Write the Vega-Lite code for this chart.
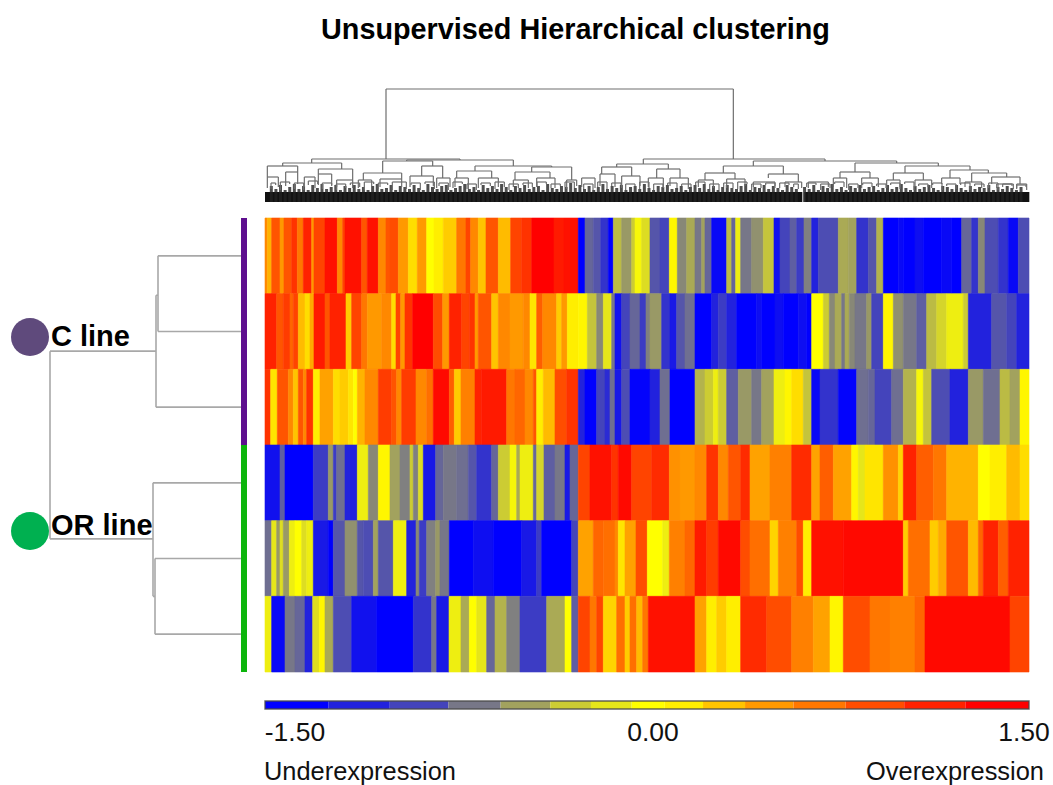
{
"$schema":"https://vega.github.io/schema/vega-lite/v6.json",
"width":1053,"height":785,"padding":0,"autosize":{"type":"none"},
"background":"white",
"title":{"text":"Unsupervised Hierarchical clustering","font":"Liberation Sans","fontSize":28.8,"fontWeight":"bold","color":"#000000","anchor":"start","frame":"group","dx":321,"dy":68,"offset":0,"baseline":"alphabetic"},
"config":{"view":{"stroke":null}},
"datasets":{
"heat":[
{"r":"C1","a":0,"b":7,"v":0.7},{"r":"C1","a":7,"b":20,"v":0.45},{"r":"C1","a":20,"b":45,"v":1.0},{"r":"C1","a":45,"b":57,"v":0.6},{"r":"C1","a":57,"b":80,"v":1.0},{"r":"C1","a":80,"b":97,"v":1.2},{"r":"C1","a":97,"b":115,"v":0.8},{"r":"C1","a":115,"b":140,"v":1.3},{"r":"C1","a":140,"b":147,"v":0.6},{"r":"C1","a":147,"b":180,"v":1.1},{"r":"C1","a":180,"b":217,"v":1.4},{"r":"C1","a":217,"b":233,"v":0.7},{"r":"C1","a":233,"b":240,"v":1.1},{"r":"C1","a":240,"b":290,"v":1.4},{"r":"C1","a":290,"b":307,"v":1.0},{"r":"C1","a":307,"b":340,"v":1.4},{"r":"C1","a":340,"b":363,"v":0.7},{"r":"C1","a":363,"b":375,"v":1.0},{"r":"C1","a":375,"b":400,"v":1.05},{"r":"C1","a":400,"b":430,"v":0.6},{"r":"C1","a":430,"b":457,"v":0.2},{"r":"C1","a":457,"b":485,"v":0.6},{"r":"C1","a":485,"b":507,"v":0},{"r":"C1","a":507,"b":535,"v":0.1},{"r":"C1","a":535,"b":575,"v":0.3},{"r":"C1","a":575,"b":603,"v":0.8},{"r":"C1","a":603,"b":617,"v":1.1},{"r":"C1","a":617,"b":640,"v":0.7},{"r":"C1","a":640,"b":663,"v":0.35},{"r":"C1","a":663,"b":700,"v":1.0},{"r":"C1","a":700,"b":737,"v":0.4},{"r":"C1","a":737,"b":770,"v":1.1},{"r":"C1","a":770,"b":800,"v":1.2},{"r":"C1","a":800,"b":867,"v":1.5},{"r":"C1","a":867,"b":897,"v":1.35},{"r":"C1","a":897,"b":940,"v":1.4},
{"r":"C1","a":940,"b":960,"v":-1.5},{"r":"C1","a":960,"b":985,"v":-0.9},{"r":"C1","a":985,"b":1007,"v":-1.0},{"r":"C1","a":1007,"b":1030,"v":-1.2},{"r":"C1","a":1030,"b":1045,"v":-1.5},{"r":"C1","a":1045,"b":1070,"v":-0.4},{"r":"C1","a":1070,"b":1100,"v":-0.6},{"r":"C1","a":1100,"b":1110,"v":-0.3},{"r":"C1","a":1110,"b":1130,"v":-0.05},{"r":"C1","a":1130,"b":1155,"v":-0.2},{"r":"C1","a":1155,"b":1185,"v":-1.0},{"r":"C1","a":1185,"b":1213,"v":-1.1},{"r":"C1","a":1213,"b":1237,"v":0.05},{"r":"C1","a":1237,"b":1265,"v":-0.7},{"r":"C1","a":1265,"b":1290,"v":-0.5},{"r":"C1","a":1290,"b":1310,"v":-0.8},{"r":"C1","a":1310,"b":1320,"v":-0.55},{"r":"C1","a":1320,"b":1340,"v":-0.9},{"r":"C1","a":1340,"b":1385,"v":-1.45},{"r":"C1","a":1385,"b":1400,"v":-0.4},{"r":"C1","a":1400,"b":1412,"v":-0.9},{"r":"C1","a":1412,"b":1427,"v":-0.1},{"r":"C1","a":1427,"b":1460,"v":-0.8},{"r":"C1","a":1460,"b":1495,"v":-0.65},{"r":"C1","a":1495,"b":1527,"v":-0.35},{"r":"C1","a":1527,"b":1545,"v":-1.4},{"r":"C1","a":1545,"b":1575,"v":-1.1},{"r":"C1","a":1575,"b":1595,"v":-0.95},{"r":"C1","a":1595,"b":1617,"v":-1.15},{"r":"C1","a":1617,"b":1640,"v":-0.75},{"r":"C1","a":1640,"b":1660,"v":-1.3},{"r":"C1","a":1660,"b":1720,"v":-1.05},{"r":"C1","a":1720,"b":1750,"v":-0.5},{"r":"C1","a":1750,"b":1775,"v":-0.55},{"r":"C1","a":1775,"b":1810,"v":-1.2},{"r":"C1","a":1810,"b":1835,"v":-1.0},{"r":"C1","a":1835,"b":1855,"v":-0.45},{"r":"C1","a":1855,"b":1900,"v":-1.5},{"r":"C1","a":1900,"b":1915,"v":-1.45},{"r":"C1","a":1915,"b":1950,"v":-1.5},{"r":"C1","a":1950,"b":1975,"v":-1.42},{"r":"C1","a":1975,"b":2030,"v":-1.5},{"r":"C1","a":2030,"b":2060,"v":-1.45},{"r":"C1","a":2060,"b":2090,"v":-1.5},{"r":"C1","a":2090,"b":2120,"v":-0.9},{"r":"C1","a":2120,"b":2140,"v":-1.2},{"r":"C1","a":2140,"b":2160,"v":-0.7},{"r":"C1","a":2160,"b":2200,"v":-1.05},{"r":"C1","a":2200,"b":2230,"v":-1.2},{"r":"C1","a":2230,"b":2260,"v":-1.45},{"r":"C1","a":2260,"b":2292,"v":-1.05},
{"r":"C2","a":0,"b":35,"v":1.3},{"r":"C2","a":35,"b":55,"v":1.0},{"r":"C2","a":55,"b":75,"v":1.15},{"r":"C2","a":75,"b":85,"v":0.9},{"r":"C2","a":85,"b":100,"v":1.1},{"r":"C2","a":100,"b":120,"v":0.4},{"r":"C2","a":120,"b":135,"v":0.2},{"r":"C2","a":135,"b":147,"v":0.5},{"r":"C2","a":147,"b":180,"v":1.35},{"r":"C2","a":180,"b":195,"v":1.0},{"r":"C2","a":195,"b":243,"v":1.3},{"r":"C2","a":243,"b":260,"v":0.3},{"r":"C2","a":260,"b":290,"v":1.1},{"r":"C2","a":290,"b":307,"v":0.8},{"r":"C2","a":307,"b":350,"v":0.6},{"r":"C2","a":350,"b":380,"v":0.7},{"r":"C2","a":380,"b":393,"v":0.2},{"r":"C2","a":393,"b":407,"v":1.1},{"r":"C2","a":407,"b":420,"v":0.6},{"r":"C2","a":420,"b":443,"v":1.2},{"r":"C2","a":443,"b":505,"v":1.5},{"r":"C2","a":505,"b":533,"v":1.05},{"r":"C2","a":533,"b":553,"v":0.6},{"r":"C2","a":553,"b":590,"v":1.3},{"r":"C2","a":590,"b":613,"v":1.1},{"r":"C2","a":613,"b":630,"v":1.2},{"r":"C2","a":630,"b":640,"v":0.6},{"r":"C2","a":640,"b":680,"v":1.0},{"r":"C2","a":680,"b":700,"v":0.35},{"r":"C2","a":700,"b":735,"v":0.7},{"r":"C2","a":735,"b":775,"v":0.6},{"r":"C2","a":775,"b":795,"v":0.7},{"r":"C2","a":795,"b":815,"v":0.15},{"r":"C2","a":815,"b":833,"v":0.95},{"r":"C2","a":833,"b":875,"v":0.7},{"r":"C2","a":875,"b":890,"v":0.3},{"r":"C2","a":890,"b":907,"v":0.6},{"r":"C2","a":907,"b":940,"v":0.1},
{"r":"C2","a":940,"b":967,"v":0.05},{"r":"C2","a":967,"b":995,"v":-0.35},{"r":"C2","a":995,"b":1015,"v":-0.7},{"r":"C2","a":1015,"b":1040,"v":-0.15},{"r":"C2","a":1040,"b":1050,"v":-0.8},{"r":"C2","a":1050,"b":1070,"v":-1.4},{"r":"C2","a":1070,"b":1095,"v":-1.1},{"r":"C2","a":1095,"b":1125,"v":-0.9},{"r":"C2","a":1125,"b":1143,"v":-1.15},{"r":"C2","a":1143,"b":1155,"v":-0.75},{"r":"C2","a":1155,"b":1190,"v":-0.6},{"r":"C2","a":1190,"b":1215,"v":-1.2},{"r":"C2","a":1215,"b":1235,"v":-1.35},{"r":"C2","a":1235,"b":1260,"v":-1.0},{"r":"C2","a":1260,"b":1290,"v":-0.85},{"r":"C2","a":1290,"b":1340,"v":-1.5},{"r":"C2","a":1340,"b":1360,"v":-1.3},{"r":"C2","a":1360,"b":1385,"v":-1.15},{"r":"C2","a":1385,"b":1415,"v":-1.3},{"r":"C2","a":1415,"b":1475,"v":-1.5},{"r":"C2","a":1475,"b":1490,"v":-1.42},{"r":"C2","a":1490,"b":1530,"v":-1.5},{"r":"C2","a":1530,"b":1555,"v":-1.42},{"r":"C2","a":1555,"b":1600,"v":-1.5},{"r":"C2","a":1600,"b":1625,"v":-1.42},{"r":"C2","a":1625,"b":1640,"v":-1.5},{"r":"C2","a":1640,"b":1675,"v":0},{"r":"C2","a":1675,"b":1693,"v":-0.3},{"r":"C2","a":1693,"b":1710,"v":-0.7},{"r":"C2","a":1710,"b":1730,"v":-0.5},{"r":"C2","a":1730,"b":1740,"v":-0.8},{"r":"C2","a":1740,"b":1753,"v":-0.5},{"r":"C2","a":1753,"b":1770,"v":-0.7},{"r":"C2","a":1770,"b":1805,"v":-0.8},{"r":"C2","a":1805,"b":1820,"v":-0.6},{"r":"C2","a":1820,"b":1855,"v":-1.1},{"r":"C2","a":1855,"b":1885,"v":0.05},{"r":"C2","a":1885,"b":1915,"v":-0.65},{"r":"C2","a":1915,"b":1955,"v":-0.8},{"r":"C2","a":1955,"b":1985,"v":-0.95},{"r":"C2","a":1985,"b":2015,"v":-0.4},{"r":"C2","a":2015,"b":2045,"v":-0.25},{"r":"C2","a":2045,"b":2095,"v":-0.1},{"r":"C2","a":2095,"b":2110,"v":-0.3},{"r":"C2","a":2110,"b":2180,"v":-1.3},{"r":"C2","a":2180,"b":2225,"v":-1.0},{"r":"C2","a":2225,"b":2255,"v":-1.1},{"r":"C2","a":2255,"b":2292,"v":-1.3},
{"r":"C3","a":0,"b":17,"v":1.2},{"r":"C3","a":17,"b":37,"v":0.15},{"r":"C3","a":37,"b":70,"v":1.0},{"r":"C3","a":70,"b":85,"v":0.7},{"r":"C3","a":85,"b":100,"v":0.35},{"r":"C3","a":100,"b":115,"v":1.0},{"r":"C3","a":115,"b":125,"v":0.7},{"r":"C3","a":125,"b":145,"v":1.2},{"r":"C3","a":145,"b":165,"v":0.1},{"r":"C3","a":165,"b":205,"v":0.55},{"r":"C3","a":205,"b":225,"v":0.2},{"r":"C3","a":225,"b":250,"v":0.3},{"r":"C3","a":250,"b":265,"v":0.15},{"r":"C3","a":265,"b":277,"v":0},{"r":"C3","a":277,"b":300,"v":0.45},{"r":"C3","a":300,"b":340,"v":0.7},{"r":"C3","a":340,"b":380,"v":1.15},{"r":"C3","a":380,"b":395,"v":1.0},{"r":"C3","a":395,"b":410,"v":0.7},{"r":"C3","a":410,"b":453,"v":1.15},{"r":"C3","a":453,"b":485,"v":0.7},{"r":"C3","a":485,"b":505,"v":0.85},{"r":"C3","a":505,"b":553,"v":1.45},{"r":"C3","a":553,"b":568,"v":0.95},{"r":"C3","a":568,"b":588,"v":0.3},{"r":"C3","a":588,"b":630,"v":0.75},{"r":"C3","a":630,"b":650,"v":1.3},{"r":"C3","a":650,"b":725,"v":1.35},{"r":"C3","a":725,"b":750,"v":0.8},{"r":"C3","a":750,"b":780,"v":0.9},{"r":"C3","a":780,"b":805,"v":0.7},{"r":"C3","a":805,"b":815,"v":1.0},{"r":"C3","a":815,"b":835,"v":0.1},{"r":"C3","a":835,"b":870,"v":0.4},{"r":"C3","a":870,"b":905,"v":1.05},{"r":"C3","a":905,"b":940,"v":1.2},
{"r":"C3","a":940,"b":960,"v":-1.3},{"r":"C3","a":960,"b":995,"v":-1.5},{"r":"C3","a":995,"b":1020,"v":-1.1},{"r":"C3","a":1020,"b":1035,"v":-1.25},{"r":"C3","a":1035,"b":1050,"v":-0.85},{"r":"C3","a":1050,"b":1070,"v":-1.35},{"r":"C3","a":1070,"b":1095,"v":-1.05},{"r":"C3","a":1095,"b":1155,"v":-1.48},{"r":"C3","a":1155,"b":1185,"v":-1.3},{"r":"C3","a":1185,"b":1215,"v":-0.85},{"r":"C3","a":1215,"b":1290,"v":-1.5},{"r":"C3","a":1290,"b":1320,"v":-0.45},{"r":"C3","a":1320,"b":1345,"v":-0.3},{"r":"C3","a":1345,"b":1360,"v":-0.1},{"r":"C3","a":1360,"b":1385,"v":-0.3},{"r":"C3","a":1385,"b":1420,"v":-0.95},{"r":"C3","a":1420,"b":1460,"v":-0.6},{"r":"C3","a":1460,"b":1490,"v":-0.8},{"r":"C3","a":1490,"b":1527,"v":-0.55},{"r":"C3","a":1527,"b":1560,"v":-0.1},{"r":"C3","a":1560,"b":1580,"v":0.05},{"r":"C3","a":1580,"b":1615,"v":0.2},{"r":"C3","a":1615,"b":1640,"v":-0.35},{"r":"C3","a":1640,"b":1665,"v":-1.45},{"r":"C3","a":1665,"b":1720,"v":-1.2},{"r":"C3","a":1720,"b":1775,"v":-1.48},{"r":"C3","a":1775,"b":1810,"v":-0.85},{"r":"C3","a":1810,"b":1830,"v":-0.9},{"r":"C3","a":1830,"b":1880,"v":-1.1},{"r":"C3","a":1880,"b":1915,"v":-0.85},{"r":"C3","a":1915,"b":1955,"v":-0.45},{"r":"C3","a":1955,"b":1975,"v":-0.05},{"r":"C3","a":1975,"b":2000,"v":-0.35},{"r":"C3","a":2000,"b":2055,"v":-1.05},{"r":"C3","a":2055,"b":2110,"v":-1.3},{"r":"C3","a":2110,"b":2155,"v":-0.6},{"r":"C3","a":2155,"b":2205,"v":-0.85},{"r":"C3","a":2205,"b":2235,"v":-0.4},{"r":"C3","a":2235,"b":2265,"v":-0.55},{"r":"C3","a":2265,"b":2292,"v":0.05},
{"r":"OR1","a":0,"b":45,"v":-1.4},{"r":"OR1","a":45,"b":60,"v":-0.95},{"r":"OR1","a":60,"b":145,"v":-1.5},{"r":"OR1","a":145,"b":190,"v":-1.15},{"r":"OR1","a":190,"b":205,"v":-0.6},{"r":"OR1","a":205,"b":215,"v":-1.15},{"r":"OR1","a":215,"b":240,"v":-0.85},{"r":"OR1","a":240,"b":277,"v":-1.3},{"r":"OR1","a":277,"b":310,"v":-0.1},{"r":"OR1","a":310,"b":340,"v":-0.7},{"r":"OR1","a":340,"b":375,"v":0.05},{"r":"OR1","a":375,"b":405,"v":-0.55},{"r":"OR1","a":405,"b":435,"v":-0.75},{"r":"OR1","a":435,"b":445,"v":-0.3},{"r":"OR1","a":445,"b":460,"v":-0.75},{"r":"OR1","a":460,"b":475,"v":-0.2},{"r":"OR1","a":475,"b":512,"v":-1.35},{"r":"OR1","a":512,"b":535,"v":-0.9},{"r":"OR1","a":535,"b":575,"v":-0.8},{"r":"OR1","a":575,"b":610,"v":-0.85},{"r":"OR1","a":610,"b":635,"v":-1.0},{"r":"OR1","a":635,"b":680,"v":-1.2},{"r":"OR1","a":680,"b":700,"v":-0.9},{"r":"OR1","a":700,"b":735,"v":-0.3},{"r":"OR1","a":735,"b":755,"v":-0.05},{"r":"OR1","a":755,"b":765,"v":-0.5},{"r":"OR1","a":765,"b":805,"v":-0.1},{"r":"OR1","a":805,"b":815,"v":-0.9},{"r":"OR1","a":815,"b":837,"v":-0.25},{"r":"OR1","a":837,"b":870,"v":-0.95},{"r":"OR1","a":870,"b":900,"v":-0.8},{"r":"OR1","a":900,"b":915,"v":-1.35},{"r":"OR1","a":915,"b":940,"v":-0.9},
{"r":"OR1","a":940,"b":975,"v":1.1},{"r":"OR1","a":975,"b":1040,"v":1.4},{"r":"OR1","a":1040,"b":1060,"v":1.2},{"r":"OR1","a":1060,"b":1100,"v":1.45},{"r":"OR1","a":1100,"b":1160,"v":1.1},{"r":"OR1","a":1160,"b":1213,"v":1.25},{"r":"OR1","a":1213,"b":1245,"v":0.65},{"r":"OR1","a":1245,"b":1290,"v":0.6},{"r":"OR1","a":1290,"b":1325,"v":0.7},{"r":"OR1","a":1325,"b":1360,"v":1.2},{"r":"OR1","a":1360,"b":1390,"v":0.7},{"r":"OR1","a":1390,"b":1427,"v":1.0},{"r":"OR1","a":1427,"b":1455,"v":1.25},{"r":"OR1","a":1455,"b":1515,"v":0.55},{"r":"OR1","a":1515,"b":1580,"v":0.75},{"r":"OR1","a":1580,"b":1640,"v":1.25},{"r":"OR1","a":1640,"b":1665,"v":0.55},{"r":"OR1","a":1665,"b":1705,"v":0.95},{"r":"OR1","a":1705,"b":1760,"v":0.55},{"r":"OR1","a":1760,"b":1780,"v":0.05},{"r":"OR1","a":1780,"b":1800,"v":-0.15},{"r":"OR1","a":1800,"b":1855,"v":0.15},{"r":"OR1","a":1855,"b":1900,"v":0.65},{"r":"OR1","a":1900,"b":1915,"v":0.25},{"r":"OR1","a":1915,"b":1955,"v":1.3},{"r":"OR1","a":1955,"b":2005,"v":0.95},{"r":"OR1","a":2005,"b":2045,"v":0.8},{"r":"OR1","a":2045,"b":2140,"v":0.45},{"r":"OR1","a":2140,"b":2175,"v":0},{"r":"OR1","a":2175,"b":2225,"v":0.1},{"r":"OR1","a":2225,"b":2265,"v":0.4},{"r":"OR1","a":2265,"b":2292,"v":0.2},
{"r":"OR2","a":0,"b":20,"v":-0.85},{"r":"OR2","a":20,"b":35,"v":-0.15},{"r":"OR2","a":35,"b":45,"v":-0.6},{"r":"OR2","a":45,"b":55,"v":-0.2},{"r":"OR2","a":55,"b":73,"v":-0.6},{"r":"OR2","a":73,"b":90,"v":-0.1},{"r":"OR2","a":90,"b":110,"v":0},{"r":"OR2","a":110,"b":125,"v":-0.2},{"r":"OR2","a":125,"b":145,"v":-0.1},{"r":"OR2","a":145,"b":190,"v":-1.35},{"r":"OR2","a":190,"b":205,"v":-1.5},{"r":"OR2","a":205,"b":240,"v":-1.0},{"r":"OR2","a":240,"b":277,"v":-0.65},{"r":"OR2","a":277,"b":295,"v":-1.0},{"r":"OR2","a":295,"b":325,"v":-1.05},{"r":"OR2","a":325,"b":340,"v":-0.55},{"r":"OR2","a":340,"b":385,"v":-1.0},{"r":"OR2","a":385,"b":425,"v":-0.1},{"r":"OR2","a":425,"b":453,"v":-1.3},{"r":"OR2","a":453,"b":463,"v":-0.7},{"r":"OR2","a":463,"b":485,"v":-1.15},{"r":"OR2","a":485,"b":512,"v":-0.75},{"r":"OR2","a":512,"b":525,"v":-0.6},{"r":"OR2","a":525,"b":553,"v":-0.8},{"r":"OR2","a":553,"b":625,"v":-1.5},{"r":"OR2","a":625,"b":685,"v":-1.42},{"r":"OR2","a":685,"b":770,"v":-1.5},{"r":"OR2","a":770,"b":815,"v":-1.35},{"r":"OR2","a":815,"b":830,"v":-1.15},{"r":"OR2","a":830,"b":920,"v":-1.5},{"r":"OR2","a":920,"b":940,"v":-1.1},
{"r":"OR2","a":940,"b":985,"v":0.55},{"r":"OR2","a":985,"b":1015,"v":0.9},{"r":"OR2","a":1015,"b":1050,"v":0.85},{"r":"OR2","a":1050,"b":1060,"v":0.7},{"r":"OR2","a":1060,"b":1080,"v":0.15},{"r":"OR2","a":1080,"b":1113,"v":0.55},{"r":"OR2","a":1113,"b":1147,"v":1.05},{"r":"OR2","a":1147,"b":1193,"v":0},{"r":"OR2","a":1193,"b":1213,"v":-0.1},{"r":"OR2","a":1213,"b":1260,"v":0.75},{"r":"OR2","a":1260,"b":1290,"v":0.9},{"r":"OR2","a":1290,"b":1325,"v":1.35},{"r":"OR2","a":1325,"b":1360,"v":1.15},{"r":"OR2","a":1360,"b":1427,"v":1.45},{"r":"OR2","a":1427,"b":1455,"v":1.05},{"r":"OR2","a":1455,"b":1515,"v":0.85},{"r":"OR2","a":1515,"b":1540,"v":0.25},{"r":"OR2","a":1540,"b":1595,"v":0.75},{"r":"OR2","a":1595,"b":1615,"v":1.05},{"r":"OR2","a":1615,"b":1640,"v":0.1},{"r":"OR2","a":1640,"b":1735,"v":1.4},{"r":"OR2","a":1735,"b":1915,"v":1.45},{"r":"OR2","a":1915,"b":1930,"v":0.3},{"r":"OR2","a":1930,"b":1995,"v":0.85},{"r":"OR2","a":1995,"b":2020,"v":0.3},{"r":"OR2","a":2020,"b":2045,"v":0.5},{"r":"OR2","a":2045,"b":2110,"v":1.0},{"r":"OR2","a":2110,"b":2140,"v":0.4},{"r":"OR2","a":2140,"b":2155,"v":0.9},{"r":"OR2","a":2155,"b":2200,"v":1.3},{"r":"OR2","a":2200,"b":2230,"v":0.95},{"r":"OR2","a":2230,"b":2292,"v":1.3},
{"r":"OR3","a":0,"b":20,"v":-0.1},{"r":"OR3","a":20,"b":60,"v":-1.45},{"r":"OR3","a":60,"b":90,"v":-0.8},{"r":"OR3","a":90,"b":120,"v":-0.9},{"r":"OR3","a":120,"b":143,"v":-1.3},{"r":"OR3","a":143,"b":163,"v":-0.2},{"r":"OR3","a":163,"b":180,"v":0.05},{"r":"OR3","a":180,"b":205,"v":-0.5},{"r":"OR3","a":205,"b":260,"v":-1.05},{"r":"OR3","a":260,"b":335,"v":-1.4},{"r":"OR3","a":335,"b":445,"v":-1.5},{"r":"OR3","a":445,"b":500,"v":-1.2},{"r":"OR3","a":500,"b":515,"v":-0.8},{"r":"OR3","a":515,"b":552,"v":-1.35},{"r":"OR3","a":552,"b":588,"v":-0.1},{"r":"OR3","a":588,"b":613,"v":-0.5},{"r":"OR3","a":613,"b":635,"v":0},{"r":"OR3","a":635,"b":665,"v":-0.15},{"r":"OR3","a":665,"b":690,"v":-0.9},{"r":"OR3","a":690,"b":725,"v":-0.45},{"r":"OR3","a":725,"b":765,"v":-0.75},{"r":"OR3","a":765,"b":845,"v":-1.15},{"r":"OR3","a":845,"b":900,"v":-0.5},{"r":"OR3","a":900,"b":920,"v":0},{"r":"OR3","a":920,"b":940,"v":-0.95},
{"r":"OR3","a":940,"b":975,"v":1.1},{"r":"OR3","a":975,"b":995,"v":0.8},{"r":"OR3","a":995,"b":1015,"v":1.1},{"r":"OR3","a":1015,"b":1055,"v":0.25},{"r":"OR3","a":1055,"b":1080,"v":0.85},{"r":"OR3","a":1080,"b":1095,"v":0.3},{"r":"OR3","a":1095,"b":1115,"v":0.85},{"r":"OR3","a":1115,"b":1133,"v":0.4},{"r":"OR3","a":1133,"b":1150,"v":0.8},{"r":"OR3","a":1150,"b":1290,"v":1.4},{"r":"OR3","a":1290,"b":1325,"v":0.55},{"r":"OR3","a":1325,"b":1355,"v":0.1},{"r":"OR3","a":1355,"b":1385,"v":0.3},{"r":"OR3","a":1385,"b":1427,"v":0.1},{"r":"OR3","a":1427,"b":1505,"v":1.25},{"r":"OR3","a":1505,"b":1580,"v":1.05},{"r":"OR3","a":1580,"b":1645,"v":0.75},{"r":"OR3","a":1645,"b":1695,"v":0.55},{"r":"OR3","a":1695,"b":1735,"v":0.05},{"r":"OR3","a":1735,"b":1815,"v":1.05},{"r":"OR3","a":1815,"b":1875,"v":0.8},{"r":"OR3","a":1875,"b":1950,"v":0.75},{"r":"OR3","a":1950,"b":1980,"v":0.9},{"r":"OR3","a":1980,"b":2235,"v":1.45},{"r":"OR3","a":2235,"b":2292,"v":1.1}
],
"bands":[{"a":-1.5,"b":-1.25,"v":-1.5,"lo":0,"hi":1},{"a":-1.25,"b":-1.01,"v":-1.3,"lo":0,"hi":1},{"a":-1.01,"b":-0.78,"v":-1.1,"lo":0,"hi":1},{"a":-0.78,"b":-0.575,"v":-0.8,"lo":0,"hi":1},{"a":-0.575,"b":-0.38,"v":-0.55,"lo":0,"hi":1},{"a":-0.38,"b":-0.22,"v":-0.3,"lo":0,"hi":1},{"a":-0.22,"b":-0.06,"v":-0.15,"lo":0,"hi":1},{"a":-0.06,"b":0.07,"v":0,"lo":0,"hi":1},{"a":0.07,"b":0.22,"v":0.1,"lo":0,"hi":1},{"a":0.22,"b":0.385,"v":0.35,"lo":0,"hi":1},{"a":0.385,"b":0.575,"v":0.6,"lo":0,"hi":1},{"a":0.575,"b":0.78,"v":0.8,"lo":0,"hi":1},{"a":0.78,"b":1.01,"v":1.05,"lo":0,"hi":1},{"a":1.01,"b":1.25,"v":1.3,"lo":0,"hi":1},{"a":1.25,"b":1.5,"v":1.5,"lo":0,"hi":1}],
"arches":[
{"a":363,"b":1405,"h":113,"ha":43,"hb":43},{"a":140,"b":585,"h":43,"ha":39,"hb":42},{"a":53,"b":230,"h":39,"ha":36,"hb":33},{"a":7,"b":98,"h":36,"ha":25,"hb":30},{"a":160,"b":263,"h":33,"ha":28,"hb":22},{"a":425,"b":745,"h":42,"ha":41,"hb":36},{"a":353,"b":503,"h":41,"ha":29,"hb":36},{"a":295,"b":410,"h":29,"ha":22,"hb":23},{"a":470,"b":533,"h":36,"ha":26,"hb":24},{"a":630,"b":860,"h":36,"ha":31,"hb":35},{"a":575,"b":680,"h":31,"ha":24,"hb":24},{"a":800,"b":920,"h":35,"ha":30,"hb":22},{"a":750,"b":855,"h":30,"ha":22,"hb":24},
{"a":1135,"b":1680,"h":43,"ha":38,"hb":41},{"a":1055,"b":1210,"h":38,"ha":35,"hb":33},{"a":1010,"b":1100,"h":35,"ha":28,"hb":26},{"a":1175,"b":1245,"h":33,"ha":24,"hb":24},{"a":1465,"b":1895,"h":41,"ha":36,"hb":39},{"a":1375,"b":1555,"h":36,"ha":29,"hb":28},{"a":1320,"b":1410,"h":29,"ha":22,"hb":23},{"a":1510,"b":1600,"h":28,"ha":24,"hb":20},{"a":1770,"b":2020,"h":39,"ha":30,"hb":36},{"a":1725,"b":1815,"h":30,"ha":24,"hb":24},{"a":1920,"b":2115,"h":36,"ha":29,"hb":32},{"a":1885,"b":1975,"h":29,"ha":22,"hb":22},{"a":2055,"b":2170,"h":32,"ha":24,"hb":29},{"a":2030,"b":2085,"h":24,"ha":18,"hb":18},{"a":2120,"b":2225,"h":29,"ha":20,"hb":25},{"a":2180,"b":2265,"h":25,"ha":18,"hb":18},
{"a":7,"b":40,"h":25,"ha":14,"hb":15},{"a":62,"b":98,"h":30,"ha":16,"hb":18},{"a":118,"b":150,"h":25,"ha":15,"hb":14},{"a":160,"b":200,"h":28,"ha":17,"hb":16},{"a":215,"b":263,"h":22,"ha":15,"hb":14},{"a":280,"b":320,"h":22,"ha":14,"hb":16},{"a":345,"b":410,"h":23,"ha":15,"hb":15},{"a":435,"b":505,"h":26,"ha":15,"hb":16},{"a":515,"b":555,"h":24,"ha":14,"hb":15},{"a":570,"b":610,"h":24,"ha":15,"hb":13},{"a":640,"b":700,"h":24,"ha":14,"hb":15},{"a":745,"b":790,"h":22,"ha":15,"hb":14},{"a":815,"b":870,"h":24,"ha":15,"hb":14},{"a":905,"b":935,"h":22,"ha":13,"hb":16},
{"a":950,"b":990,"h":24,"ha":15,"hb":14},{"a":1005,"b":1050,"h":28,"ha":16,"hb":15},{"a":1070,"b":1125,"h":26,"ha":14,"hb":16},{"a":1150,"b":1195,"h":24,"ha":15,"hb":14},{"a":1215,"b":1270,"h":24,"ha":16,"hb":13},{"a":1300,"b":1345,"h":22,"ha":15,"hb":14},{"a":1385,"b":1440,"h":23,"ha":14,"hb":16},{"a":1465,"b":1530,"h":20,"ha":15,"hb":14},{"a":1560,"b":1610,"h":20,"ha":15,"hb":14},{"a":1630,"b":1690,"h":20,"ha":14,"hb":15},{"a":1705,"b":1745,"h":24,"ha":15,"hb":14},{"a":1790,"b":1840,"h":24,"ha":14,"hb":15},{"a":1865,"b":1905,"h":22,"ha":14,"hb":13},{"a":1950,"b":2000,"h":22,"ha":15,"hb":14},{"a":2100,"b":2150,"h":20,"ha":15,"hb":14},{"a":2195,"b":2245,"h":18,"ha":14,"hb":13},{"a":2255,"b":2285,"h":18,"ha":13,"hb":12},
{"a":18,"b":32,"h":19,"ha":13,"hb":17},{"a":46,"b":74,"h":20,"ha":12,"hb":18},{"a":88,"b":116,"h":19,"ha":13,"hb":12},{"a":130,"b":158,"h":21,"ha":17,"hb":18},{"a":172,"b":200,"h":19,"ha":13,"hb":17},{"a":214,"b":242,"h":18,"ha":12,"hb":14},{"a":256,"b":284,"h":19,"ha":17,"hb":15},{"a":298,"b":326,"h":20,"ha":12,"hb":18},{"a":340,"b":368,"h":19,"ha":13,"hb":17},{"a":382,"b":424,"h":20,"ha":12,"hb":13},{"a":438,"b":466,"h":19,"ha":17,"hb":12},{"a":480,"b":508,"h":20,"ha":18,"hb":13},{"a":522,"b":550,"h":19,"ha":16,"hb":12},{"a":564,"b":592,"h":20,"ha":14,"hb":18},{"a":606,"b":634,"h":18,"ha":13,"hb":12},{"a":648,"b":676,"h":19,"ha":17,"hb":16},{"a":690,"b":718,"h":20,"ha":13,"hb":15},{"a":732,"b":760,"h":18,"ha":12,"hb":14},{"a":774,"b":802,"h":19,"ha":17,"hb":15},{"a":816,"b":844,"h":20,"ha":16,"hb":18},{"a":858,"b":886,"h":18,"ha":14,"hb":16},{"a":900,"b":928,"h":20,"ha":15,"hb":14},
{"a":956,"b":984,"h":18,"ha":13,"hb":12},{"a":998,"b":1026,"h":20,"ha":15,"hb":13},{"a":1040,"b":1068,"h":19,"ha":16,"hb":17},{"a":1082,"b":1110,"h":18,"ha":12,"hb":16},{"a":1124,"b":1152,"h":20,"ha":13,"hb":14},{"a":1166,"b":1194,"h":18,"ha":12,"hb":15},{"a":1208,"b":1236,"h":19,"ha":17,"hb":14},{"a":1250,"b":1278,"h":18,"ha":16,"hb":15},{"a":1292,"b":1320,"h":20,"ha":17,"hb":18},{"a":1334,"b":1362,"h":18,"ha":13,"hb":12},{"a":1376,"b":1404,"h":19,"ha":15,"hb":14},{"a":1418,"b":1446,"h":20,"ha":13,"hb":18},{"a":1460,"b":1488,"h":18,"ha":12,"hb":14},{"a":1502,"b":1530,"h":19,"ha":17,"hb":16},{"a":1544,"b":1572,"h":19,"ha":14,"hb":17},{"a":1586,"b":1600,"h":18,"ha":15,"hb":13},{"a":1625,"b":1653,"h":19,"ha":15,"hb":17},{"a":1667,"b":1695,"h":18,"ha":12,"hb":14},{"a":1709,"b":1737,"h":20,"ha":18,"hb":15},{"a":1751,"b":1779,"h":18,"ha":12,"hb":14},{"a":1793,"b":1821,"h":19,"ha":17,"hb":15},{"a":1835,"b":1863,"h":18,"ha":16,"hb":14},{"a":1877,"b":1905,"h":19,"ha":17,"hb":15},{"a":1919,"b":1947,"h":20,"ha":18,"hb":12},{"a":1961,"b":1989,"h":18,"ha":16,"hb":15},{"a":2003,"b":2031,"h":19,"ha":17,"hb":12},{"a":2045,"b":2073,"h":18,"ha":16,"hb":13},{"a":2087,"b":2115,"h":19,"ha":17,"hb":12},{"a":2129,"b":2157,"h":18,"ha":16,"hb":15},{"a":2171,"b":2199,"h":19,"ha":14,"hb":12},{"a":2213,"b":2241,"h":18,"ha":15,"hb":16},{"a":2255,"b":2283,"h":17,"ha":14,"hb":15}
],
"base":[{"a":0,"b":1612,"lo":0,"h":10},{"a":1618,"b":2293,"lo":0,"h":10}],
"leaves":[
{"g":4,"h":16},{"g":18,"h":13},{"g":32,"h":17},{"g":46,"h":12},{"g":60,"h":15},{"g":74,"h":18},{"g":88,"h":13},{"g":102,"h":16},{"g":116,"h":12},{"g":130,"h":17},{"g":144,"h":14},{"g":158,"h":18},{"g":172,"h":13},{"g":186,"h":15},{"g":200,"h":17},{"g":214,"h":12},{"g":228,"h":16},{"g":242,"h":14},{"g":256,"h":17},{"g":270,"h":13},{"g":284,"h":15},{"g":298,"h":12},{"g":312,"h":16},{"g":326,"h":18},{"g":340,"h":13},{"g":354,"h":14},{"g":368,"h":17},{"g":382,"h":12},{"g":396,"h":16},{"g":410,"h":15},{"g":424,"h":13},{"g":438,"h":17},{"g":452,"h":14},{"g":466,"h":12},{"g":480,"h":18},{"g":494,"h":15},{"g":508,"h":13},{"g":522,"h":16},{"g":536,"h":17},{"g":550,"h":12},{"g":564,"h":14},{"g":578,"h":16},{"g":592,"h":18},{"g":606,"h":13},{"g":620,"h":15},{"g":634,"h":12},{"g":648,"h":17},{"g":662,"h":14},{"g":676,"h":16},{"g":690,"h":13},{"g":704,"h":18},{"g":718,"h":15},{"g":732,"h":12},{"g":746,"h":16},{"g":760,"h":14},{"g":774,"h":17},{"g":788,"h":13},{"g":802,"h":15},{"g":816,"h":16},{"g":830,"h":12},{"g":844,"h":18},{"g":858,"h":14},{"g":872,"h":13},{"g":886,"h":16},{"g":900,"h":15},{"g":914,"h":19},{"g":928,"h":14},{"g":942,"h":17},
{"g":956,"h":13},{"g":970,"h":16},{"g":984,"h":12},{"g":998,"h":15},{"g":1012,"h":18},{"g":1026,"h":13},{"g":1040,"h":16},{"g":1054,"h":14},{"g":1068,"h":17},{"g":1082,"h":12},{"g":1096,"h":15},{"g":1110,"h":16},{"g":1124,"h":13},{"g":1138,"h":18},{"g":1152,"h":14},{"g":1166,"h":12},{"g":1180,"h":16},{"g":1194,"h":15},{"g":1208,"h":17},{"g":1222,"h":13},{"g":1236,"h":14},{"g":1250,"h":16},{"g":1264,"h":12},{"g":1278,"h":15},{"g":1292,"h":17},{"g":1306,"h":14},{"g":1320,"h":18},{"g":1334,"h":13},{"g":1348,"h":16},{"g":1362,"h":12},{"g":1376,"h":15},{"g":1390,"h":17},{"g":1404,"h":14},{"g":1418,"h":13},{"g":1432,"h":16},{"g":1446,"h":18},{"g":1460,"h":12},{"g":1474,"h":15},{"g":1488,"h":14},{"g":1502,"h":17},{"g":1516,"h":13},{"g":1530,"h":16},{"g":1544,"h":14},{"g":1558,"h":12},{"g":1572,"h":17},{"g":1586,"h":15},{"g":1600,"h":13},{"g":1625,"h":15},{"g":1639,"h":13},{"g":1653,"h":17},{"g":1667,"h":12},{"g":1681,"h":16},{"g":1695,"h":14},{"g":1709,"h":18},{"g":1723,"h":13},{"g":1737,"h":15},{"g":1751,"h":12},{"g":1765,"h":16},{"g":1779,"h":14},{"g":1793,"h":17},{"g":1807,"h":13},{"g":1821,"h":15},{"g":1835,"h":16},{"g":1849,"h":12},{"g":1863,"h":14},{"g":1877,"h":17},{"g":1891,"h":13},{"g":1905,"h":15},{"g":1919,"h":18},{"g":1933,"h":14},{"g":1947,"h":12},{"g":1961,"h":16},{"g":1975,"h":13},{"g":1989,"h":15},{"g":2003,"h":17},{"g":2017,"h":14},{"g":2031,"h":12},{"g":2045,"h":16},{"g":2059,"h":15},{"g":2073,"h":13},{"g":2087,"h":17},{"g":2101,"h":14},{"g":2115,"h":12},{"g":2129,"h":16},{"g":2143,"h":13},{"g":2157,"h":15},{"g":2171,"h":14},{"g":2185,"h":17},{"g":2199,"h":12},{"g":2213,"h":15},{"g":2227,"h":13},{"g":2241,"h":16},{"g":2255,"h":14},{"g":2269,"h":12},{"g":2283,"h":15}
],
"sampleArches":[{"d":191,"s0":1.76,"s1":4.24,"da":85,"db":88},{"d":85,"s0":1.02,"s1":2.5,"da":83,"db":0},{"d":83,"s0":0.5,"s1":1.5,"da":0,"db":0},{"d":88,"s0":3.5,"s1":5.0,"da":0,"db":86},{"d":86,"s0":4.5,"s1":5.5,"da":0,"db":0}],
"groups":[{"group":"C line","s0":0,"s1":3,"d0":-6,"d1":0,"cs":1.573,"ts":1.69,"cd":211,"td":190},{"group":"OR line","s0":3,"s1":6,"d0":-6,"d1":0,"cs":4.136,"ts":4.19,"cd":211,"td":190}],
"ticks":[{"v":-1.5,"t":"-1.50","l":0},{"v":0,"t":"0.00","l":0},{"v":1.5,"t":"1.50","l":0}],
"captions":[{"v":-1.5,"t":"Underexpression","l":1},{"v":1.5,"t":"Overexpression","l":1}],
"frame":[{"a":-1.5,"b":1.5,"lo":0,"hi":1}]
},
"resolve":{"scale":{"x":"independent","y":"independent","color":"independent","stroke":"independent"}},
"layer":[
{"data":{"name":"heat"},"mark":{"type":"rect","strokeWidth":0.6},
 "encoding":{
  "x":{"field":"a","type":"quantitative","axis":null,"scale":{"domain":[0,2292],"range":[265,1029],"nice":false,"zero":false}},
  "x2":{"field":"b"},
  "y":{"field":"r","type":"ordinal","axis":null,"sort":null,"scale":{"type":"band","domain":["C1","C2","C3","OR1","OR2","OR3"],"range":[218,672],"paddingInner":0,"paddingOuter":0}},
  "color":{"field":"v","type":"quantitative","legend":null,"scale":{"domain":[-1.5,0,1.5],"range":["#0000ff","#ffff00","#ff0000"],"interpolate":"rgb"}},
  "stroke":{"field":"v","type":"quantitative","legend":null,"scale":{"domain":[-1.5,0,1.5],"range":["#0000ff","#ffff00","#ff0000"],"interpolate":"rgb"}}}},
{"data":{"name":"bands"},"mark":{"type":"rect","strokeWidth":0},
 "encoding":{
  "x":{"field":"a","type":"quantitative","axis":null,"scale":{"domain":[-1.5,1.5],"range":[265,1029],"nice":false,"zero":false}},
  "x2":{"field":"b"},
  "y":{"field":"lo","type":"quantitative","axis":null,"scale":{"domain":[0,1],"range":[709,701],"zero":false,"nice":false}},
  "y2":{"field":"hi"},
  "color":{"field":"v","type":"quantitative","legend":null,"scale":{"domain":[-1.5,0,1.5],"range":["#0000ff","#ffff00","#ff0000"],"interpolate":"rgb"}}}},
{"data":{"name":"frame"},"mark":{"type":"rect","fill":null,"stroke":"#4a4a4a","strokeWidth":1.4,"opacity":0.85},
 "encoding":{
  "x":{"field":"a","type":"quantitative","axis":null,"scale":{"domain":[-1.5,1.5],"range":[265,1029],"nice":false,"zero":false}},
  "x2":{"field":"b"},
  "y":{"field":"lo","type":"quantitative","axis":null,"scale":{"domain":[0,1],"range":[709,701],"zero":false,"nice":false}},
  "y2":{"field":"hi"}}},
{"data":{"name":"base"},"mark":{"type":"rect","fill":"#111111","strokeWidth":0},
 "encoding":{
  "x":{"field":"a","type":"quantitative","axis":null,"scale":{"domain":[0,2292],"range":[265,1029],"nice":false,"zero":false}},
  "x2":{"field":"b"},
  "y":{"field":"lo","type":"quantitative","axis":null,"scale":{"domain":[0,113],"range":[202,89],"zero":false,"nice":false}},
  "y2":{"field":"h"}}},
{"data":{"name":"leaves"},"mark":{"type":"bar","orient":"vertical","size":3,"fill":"#222222","opacity":0.8},
 "encoding":{
  "x":{"field":"g","type":"quantitative","axis":null,"scale":{"domain":[0,2292],"range":[265,1029],"nice":false,"zero":false}},
  "y":{"field":"h","type":"quantitative","stack":null,"axis":null,"scale":{"domain":[0,113],"range":[202,89],"zero":false,"nice":false}}}},
{"data":{"name":"arches"},"mark":{"type":"rule","stroke":"#6e6e6e","strokeWidth":1.2},
 "encoding":{
  "x":{"field":"a","type":"quantitative","axis":null,"scale":{"domain":[0,2292],"range":[265,1029],"nice":false,"zero":false}},
  "x2":{"field":"b"},
  "y":{"field":"h","type":"quantitative","axis":null,"scale":{"domain":[0,113],"range":[202,89],"zero":false,"nice":false}}}},
{"data":{"name":"arches"},"mark":{"type":"rule","stroke":"#6e6e6e","strokeWidth":1.2},
 "encoding":{
  "x":{"field":"a","type":"quantitative","axis":null,"scale":{"domain":[0,2292],"range":[265,1029],"nice":false,"zero":false}},
  "y":{"field":"ha","type":"quantitative","axis":null,"scale":{"domain":[0,113],"range":[202,89],"zero":false,"nice":false}},
  "y2":{"field":"h"}}},
{"data":{"name":"arches"},"mark":{"type":"rule","stroke":"#6e6e6e","strokeWidth":1.2},
 "encoding":{
  "x":{"field":"b","type":"quantitative","axis":null,"scale":{"domain":[0,2292],"range":[265,1029],"nice":false,"zero":false}},
  "y":{"field":"hb","type":"quantitative","axis":null,"scale":{"domain":[0,113],"range":[202,89],"zero":false,"nice":false}},
  "y2":{"field":"h"}}},
{"data":{"name":"sampleArches"},"mark":{"type":"rule","stroke":"#a8a8a8","strokeWidth":1.6},
 "encoding":{
  "x":{"field":"d","type":"quantitative","axis":null,"scale":{"domain":[0,191],"range":[241,50],"nice":false,"zero":false}},
  "y":{"field":"s0","type":"quantitative","axis":null,"scale":{"domain":[0,6],"range":[218,672],"nice":false,"zero":false}},
  "y2":{"field":"s1"}}},
{"data":{"name":"sampleArches"},"mark":{"type":"rule","stroke":"#a8a8a8","strokeWidth":1.6},
 "encoding":{
  "x":{"field":"d","type":"quantitative","axis":null,"scale":{"domain":[0,191],"range":[241,50],"nice":false,"zero":false}},
  "x2":{"field":"da"},
  "y":{"field":"s0","type":"quantitative","axis":null,"scale":{"domain":[0,6],"range":[218,672],"nice":false,"zero":false}}}},
{"data":{"name":"sampleArches"},"mark":{"type":"rule","stroke":"#a8a8a8","strokeWidth":1.6},
 "encoding":{
  "x":{"field":"d","type":"quantitative","axis":null,"scale":{"domain":[0,191],"range":[241,50],"nice":false,"zero":false}},
  "x2":{"field":"db"},
  "y":{"field":"s1","type":"quantitative","axis":null,"scale":{"domain":[0,6],"range":[218,672],"nice":false,"zero":false}}}},
{"data":{"name":"groups"},"mark":{"type":"rect","strokeWidth":0},
 "encoding":{
  "x":{"field":"d0","type":"quantitative","axis":null,"scale":{"domain":[0,191],"range":[241,50],"nice":false,"zero":false}},
  "x2":{"field":"d1"},
  "y":{"field":"s0","type":"quantitative","axis":null,"scale":{"domain":[0,6],"range":[218,672],"nice":false,"zero":false}},
  "y2":{"field":"s1"},
  "color":{"field":"group","type":"nominal","legend":null,"scale":{"domain":["C line","OR line"],"range":["#5e0f8f","#0cb50c"]}}}},
{"data":{"name":"groups"},"mark":{"type":"point","filled":true,"opacity":1,"size":1444,"shape":"circle"},
 "encoding":{
  "x":{"field":"cd","type":"quantitative","axis":null,"scale":{"domain":[0,191],"range":[241,50],"nice":false,"zero":false}},
  "y":{"field":"cs","type":"quantitative","axis":null,"scale":{"domain":[0,6],"range":[218,672],"nice":false,"zero":false}},
  "color":{"field":"group","type":"nominal","legend":null,"scale":{"domain":["C line","OR line"],"range":["#5f4a7c","#00b050"]}}}},
{"data":{"name":"groups"},"mark":{"type":"text","font":"Liberation Sans","fontSize":29,"fontWeight":"bold","align":"left","baseline":"alphabetic","color":"#000000"},
 "encoding":{
  "x":{"field":"td","type":"quantitative","axis":null,"scale":{"domain":[0,191],"range":[241,50],"nice":false,"zero":false}},
  "y":{"field":"ts","type":"quantitative","axis":null,"scale":{"domain":[0,6],"range":[218,672],"nice":false,"zero":false}},
  "text":{"field":"group"}}},
{"data":{"name":"ticks"},"mark":{"type":"text","font":"Liberation Sans","fontSize":26.5,"align":"center","baseline":"alphabetic","color":"#111111"},
 "encoding":{
  "x":{"field":"v","type":"quantitative","axis":null,"scale":{"domain":[-1.5,0,1.5],"range":[295,653,1024],"nice":false,"zero":false}},
  "y":{"field":"l","type":"quantitative","axis":null,"scale":{"domain":[0,1],"range":[741,781],"zero":false,"nice":false}},
  "text":{"field":"t"}}},
{"data":{"name":"captions"},"mark":{"type":"text","font":"Liberation Sans","fontSize":25.4,"align":"center","baseline":"alphabetic","color":"#111111"},
 "encoding":{
  "x":{"field":"v","type":"quantitative","axis":null,"scale":{"domain":[-1.5,1.5],"range":[360,955],"nice":false,"zero":false}},
  "y":{"field":"l","type":"quantitative","axis":null,"scale":{"domain":[0,1],"range":[741,780],"zero":false,"nice":false}},
  "text":{"field":"t"}}}
]
}
